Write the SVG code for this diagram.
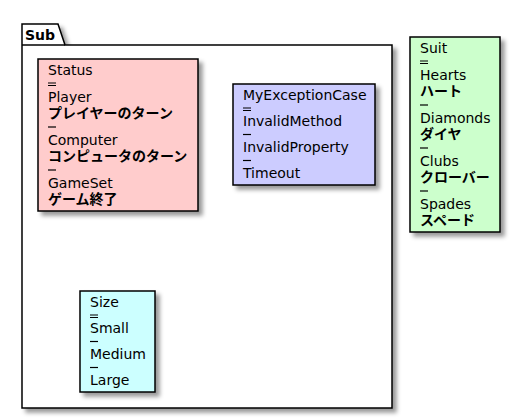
<svg xmlns="http://www.w3.org/2000/svg" width="510" height="419" viewBox="0 0 510 419">
<defs>
<filter id="sh" x="-10%" y="-10%" width="130%" height="130%">
<feGaussianBlur in="SourceAlpha" stdDeviation="2" result="b1"/>
<feColorMatrix type="matrix" in="b1" result="b2" values="0 0 0 0 0  0 0 0 0 0  0 0 0 0 0  0 0 0 .4 0"/>
<feOffset dx="4" dy="4" in="b2" result="b3"/>
<feBlend in="SourceGraphic" in2="b3" mode="normal"/>
</filter>
<style>
.t{font-family:"DejaVu Sans","Noto Sans CJK JP",sans-serif;font-size:14px;fill:#000}
.b{font-family:"DejaVu Sans","Noto Sans CJK JP",sans-serif;font-size:14px;font-weight:bold;fill:#000}
.box{stroke:#000;stroke-width:1.5}
.sep{stroke:#000;stroke-width:1.2;fill:none}
.pk{fill:#fff;stroke:#000;stroke-width:1.5}
</style>
</defs>
<g id="pkg-Sub">
<path class="pk" filter="url(#sh)" d="M22,24 L58,24 L65,45 L392,45 L392,408 L22,408 Z"/>
<line x1="22" y1="45" x2="65" y2="45" stroke="#000" stroke-width="1.5"/>
<text x="25" y="40" style="font-family:'DejaVu Sans',sans-serif;font-size:14px;font-weight:bold">Sub</text>
</g>
<g id="node-Status">
<rect class="box" x="38" y="59" width="160" height="152" fill="#FFCCCC" filter="url(#sh)"/>
<text class="t" x="48" y="75">Status</text>
<path class="sep" d="M48,83h8M48,85.5h8"/>
<text class="t" x="48" y="102">Player</text>
<text class="b" x="48" y="118">プレイヤーのターン</text>
<path class="sep" d="M48,127h8"/>
<text class="t" x="48" y="145">Computer</text>
<text class="b" x="48" y="161">コンピュータのターン</text>
<path class="sep" d="M48,170h8"/>
<text class="t" x="48" y="188">GameSet</text>
<text class="b" x="48" y="204">ゲーム終了</text>
</g>
<g id="node-MyExceptionCase">
<rect class="box" x="233" y="84" width="142" height="101" fill="#CCCCFF" filter="url(#sh)"/>
<text class="t" x="243" y="100">MyExceptionCase</text>
<path class="sep" d="M243,108h8M243,110.5h8"/>
<text class="t" x="243" y="126">InvalidMethod</text>
<path class="sep" d="M243,134.5h8"/>
<text class="t" x="243" y="152">InvalidProperty</text>
<path class="sep" d="M243,160.5h8"/>
<text class="t" x="243" y="178">Timeout</text>
</g>
<g id="node-Size">
<rect class="box" x="80" y="291" width="75" height="101" fill="#CCFFFF" filter="url(#sh)"/>
<text class="t" x="90" y="307">Size</text>
<path class="sep" d="M90,315h8M90,317.5h8"/>
<text class="t" x="90" y="333">Small</text>
<path class="sep" d="M90,341.5h8"/>
<text class="t" x="90" y="359">Medium</text>
<path class="sep" d="M90,367.5h8"/>
<text class="t" x="90" y="385">Large</text>
</g>
<g id="node-Suit">
<rect class="box" x="410" y="37" width="90" height="195" fill="#CCFFCC" filter="url(#sh)"/>
<text class="t" x="420" y="53">Suit</text>
<path class="sep" d="M420,61h8M420,63.5h8"/>
<text class="t" x="420" y="80">Hearts</text>
<text class="b" x="420" y="96">ハート</text>
<path class="sep" d="M420,105h8"/>
<text class="t" x="420" y="123">Diamonds</text>
<text class="b" x="420" y="139">ダイヤ</text>
<path class="sep" d="M420,148h8"/>
<text class="t" x="420" y="166">Clubs</text>
<text class="b" x="420" y="182">クローバー</text>
<path class="sep" d="M420,191h8"/>
<text class="t" x="420" y="209">Spades</text>
<text class="b" x="420" y="225">スペード</text>
</g>
<g id="connectors"></g>
</svg>
